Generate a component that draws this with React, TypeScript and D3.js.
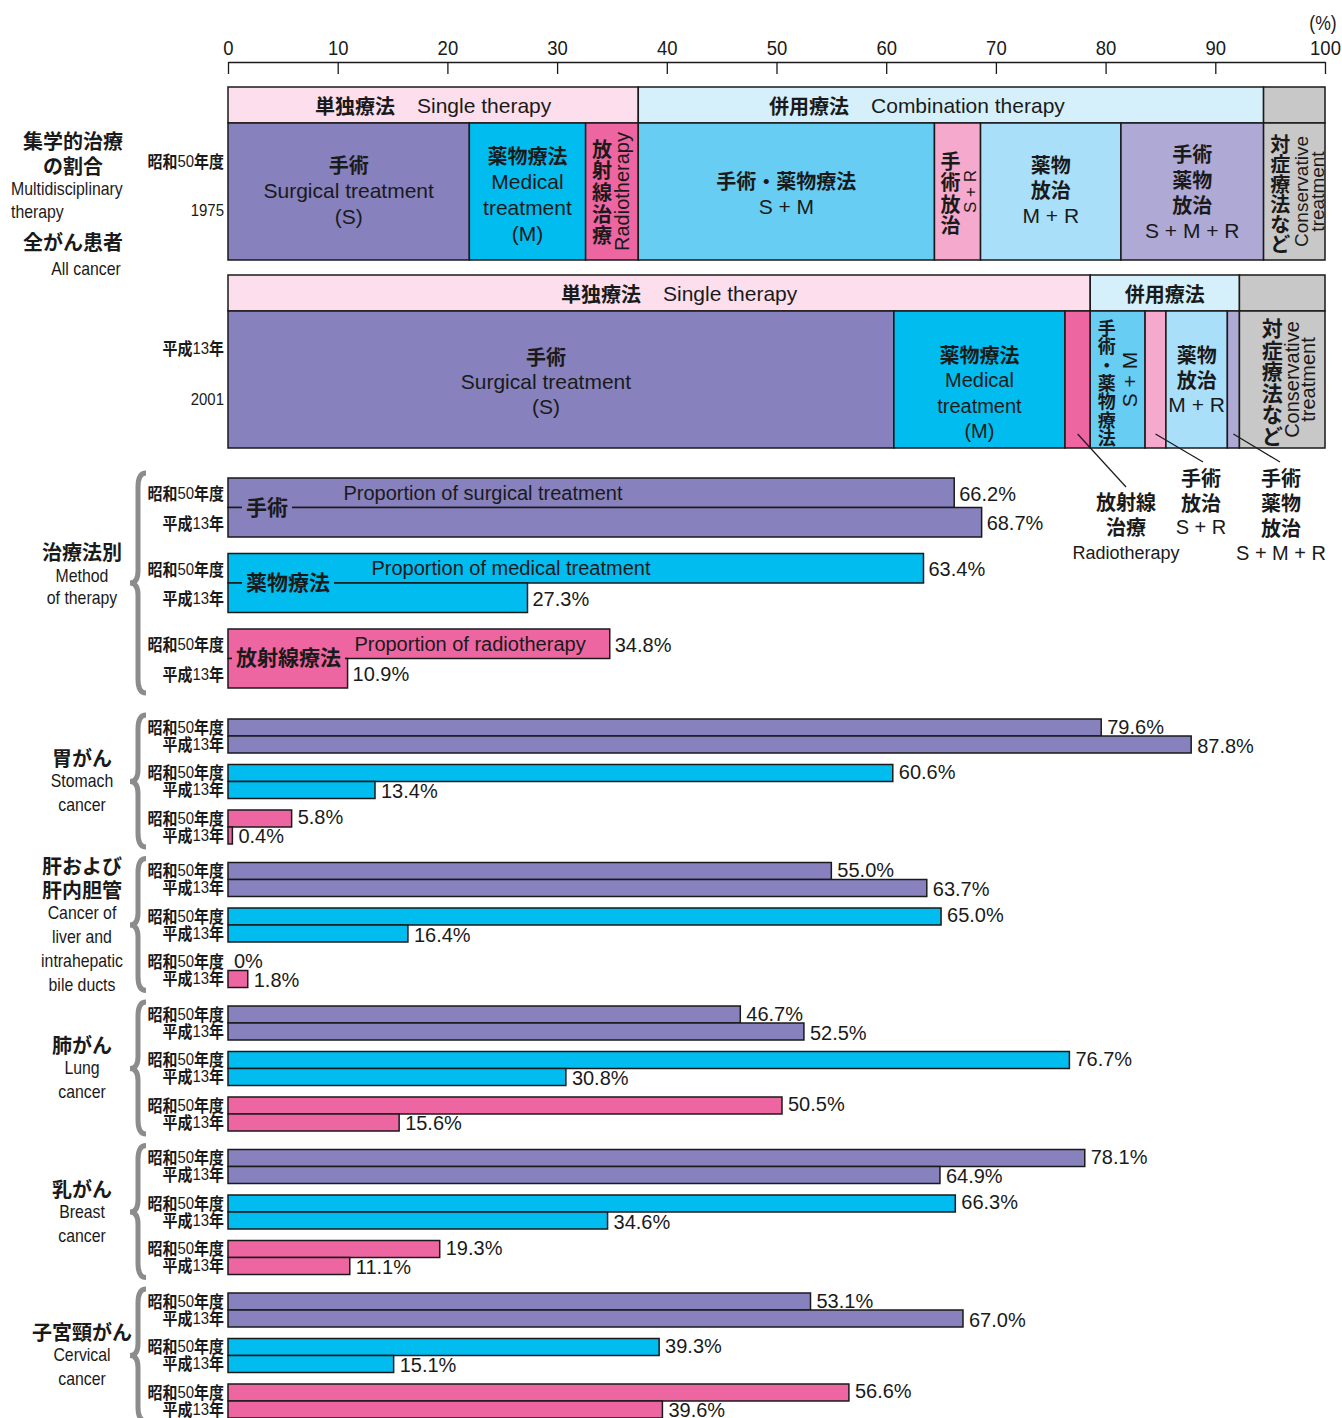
import React, { useEffect, useRef } from 'react';
import * as d3 from 'd3';

// axis
const axisTicks = [0, 10, 20, 30, 40, 50, 60, 70, 80, 90, 100];

// combination breakdown, all cancer (S, M, R, S+M, S+R, M+R, S+M+R, conservative)
const comboKeys = ['S', 'M', 'R', 'SM', 'SR', 'MR', 'SMR', 'C'];
const combo1975 = [22.0, 10.6, 4.8, 27.0, 4.2, 12.8, 13.0, 5.6];
const combo2001 = [60.7, 15.6, 2.3, 5.0, 1.9, 5.6, 1.1, 7.8];
const comboColors = ['#8781bd', '#00bcef', '#ee66a1', '#67cdf3', '#f5a9cd', '#aadffa', '#aea9d5', '#c8c8c8'];
const groupColors = ['#fcdeec', '#d5f0fb', '#c8c8c8'];

// proportion by method, all cancer
const methodJp = ['手術', '薬物療法', '放射線療法'];
const methodEn = ['Proportion of surgical treatment', 'Proportion of medical treatment', 'Proportion of radiotherapy'];
const allCancer1975 = [66.2, 63.4, 34.8];
const allCancer2001 = [68.7, 27.3, 10.9];
const methodColors = ['#8781bd', '#00bcef', '#ee66a1'];

// by cancer site
const siteJp = [['胃がん'], ['肝および', '肝内胆管'], ['肺がん'], ['乳がん'], ['子宮頸がん']];
const siteEn = [['Stomach', 'cancer'], ['Cancer of', 'liver and', 'intrahepatic', 'bile ducts'], ['Lung', 'cancer'], ['Breast', 'cancer'], ['Cervical', 'cancer']];
const surgery1975 = [79.6, 55.0, 46.7, 78.1, 53.1];
const surgery2001 = [87.8, 63.7, 52.5, 64.9, 67.0];
const medical1975 = [60.6, 65.0, 76.7, 66.3, 39.3];
const medical2001 = [13.4, 16.4, 30.8, 34.6, 15.1];
const radio1975 = [5.8, 0, 50.5, 19.3, 56.6];
const radio2001 = [0.4, 1.8, 15.6, 11.1, 39.6];

const yearsJp = ['昭和50年度', '平成13年'];
const yearsEn = ['1975', '2001'];

const JP = "'Noto Sans CJK JP', sans-serif";
const SANS = "'Liberation Sans', Arial, sans-serif";
const NARROW = "'Liberation Sans Narrow', 'Liberation Sans', sans-serif";
const INK = '#1a1a1a';

const fmt = (v: number) => (v === 0 ? '0%' : d3.format('.1f')(v) + '%');

export default function App() {
	const ref = useRef<SVGSVGElement>(null);

	useEffect(() => {
		const svg = d3.select(ref.current);
		svg.selectAll('*').remove();

		const x = d3.scaleLinear().domain([0, 100]).range([228, 1325]);

		const txt = (g: any, s: string, tx: number, ty: number, opt: any = {}) =>
			g.append('text')
				.attr('x', tx)
				.attr('y', ty)
				.attr('text-anchor', opt.anchor || 'middle')
				.attr('dominant-baseline', 'central')
				.attr('font-family', opt.font || SANS)
				.attr('font-weight', opt.bold ? 700 : 400)
				.attr('font-size', opt.size || 20)
				.attr('fill', INK)
				.text(s);

		const jp = (g: any, s: string, tx: number, ty: number, size = 20, anchor = 'middle') =>
			txt(g, s, tx, ty, { font: JP, bold: true, size, anchor });

		// narrow look: horizontally squeezed text, right-aligned at tx
		const yearLabel = (g: any, s: string, tx: number, ty: number, size: number) => {
			const t = g.append('text')
				.attr('transform', `translate(${tx},${ty}) scale(0.88,1)`)
				.attr('text-anchor', 'end')
				.attr('dominant-baseline', 'central')
				.attr('font-size', size)
				.attr('fill', INK);
			(s.match(/(\d+|\D+)/g) || []).forEach((p) => {
				const num = /\d/.test(p);
				t.append('tspan')
					.attr('font-family', num ? NARROW : JP)
					.attr('font-weight', num ? 400 : 700)
					.text(p);
			});
		};

		const narrow = (g: any, s: string, tx: number, ty: number, size = 18, anchor = 'middle') =>
			g.append('text')
				.attr('transform', `translate(${tx},${ty}) scale(0.88,1)`)
				.attr('text-anchor', anchor)
				.attr('dominant-baseline', 'central')
				.attr('font-family', NARROW)
				.attr('font-size', size)
				.attr('fill', INK)
				.text(s);

		const vChars = (g: any, s: string, cx: number, y0: number, step: number, size: number) =>
			Array.from(s).forEach((c, i) => jp(g, c, cx, y0 + i * step, size));

		const rotText = (g: any, s: string, bx: number, cy: number, size: number) =>
			g.append('text')
				.attr('transform', `translate(${bx},${cy}) rotate(-90)`)
				.attr('text-anchor', 'middle')
				.attr('font-family', SANS)
				.attr('font-size', size)
				.attr('fill', INK)
				.text(s);

		const brace = (y0: number, y1: number, tipY: number) => {
			const xr = 146, xm = 138, xt = 130;
			const p = `M${xr},${y0} Q${xm},${y0} ${xm},${y0 + 14} L${xm},${tipY - 12} Q${xm},${tipY} ${xt},${tipY} ` +
				`Q${xm},${tipY} ${xm},${tipY + 12} L${xm},${y1 - 14} Q${xm},${y1} ${xr},${y1}`;
			svg.append('path').attr('d', p).attr('fill', 'none').attr('stroke', '#8c8c8c').attr('stroke-width', 5);
		};

		// ---- axis ----
		const axis = d3.axisTop(x).tickValues(axisTicks).tickSizeInner(-12).tickSizeOuter(0).tickPadding(7);
		const ag = svg.append('g').attr('transform', 'translate(0,62)').call(axis as any);
		ag.select('.domain').attr('stroke', INK).attr('stroke-width', 1.5);
		ag.selectAll('.tick line').attr('stroke', INK).attr('stroke-width', 1.3);
		ag.selectAll('.tick text')
			.attr('font-family', NARROW).attr('font-size', 21).attr('fill', INK)
			.attr('transform', 'scale(0.88,1)');
		narrow(svg, '(%)', 1323, 23, 20);

		// ---- stacked blocks ----
		const drawStack = (values: number[], yTop: number, groupDx: number[], groupText: [string, string][]) => {
			const g = svg.append('g');
			const cum = d3.cumsum(values);
			const starts = values.map((_, i) => (i === 0 ? 0 : cum[i - 1]));
			const groups = [[0, cum[2]], [cum[2], cum[6]], [cum[6], 100]];
			const hH = 36, bH = 137;
			groups.forEach((gr, i) => {
				g.append('rect')
					.attr('x', x(gr[0])).attr('y', yTop)
					.attr('width', x(gr[1]) - x(gr[0])).attr('height', hH)
					.attr('fill', groupColors[i]).attr('stroke', INK).attr('stroke-width', 1.5);
				const [a, b] = groupText[i];
				if (a) {
					const t = g.append('text')
						.attr('x', (x(gr[0]) + x(gr[1])) / 2 + groupDx[i]).attr('y', yTop + hH / 2)
						.attr('text-anchor', 'middle').attr('dominant-baseline', 'central').attr('fill', INK);
					t.append('tspan').attr('font-family', JP).attr('font-weight', 700).attr('font-size', 20).text(a);
					if (b) t.append('tspan').attr('dx', 22).attr('font-family', SANS).attr('font-size', 21).text(b);
				}
			});
			g.selectAll('rect.seg')
				.data(values)
				.enter()
				.append('rect')
				.attr('class', 'seg')
				.attr('x', (d, i) => x(starts[i]))
				.attr('y', yTop + hH)
				.attr('width', (d) => x(d) - x(0))
				.attr('height', bH)
				.attr('fill', (d, i) => comboColors[i])
				.attr('stroke', INK)
				.attr('stroke-width', 1.5);
			const cx = (i: number) => x(starts[i] + values[i] / 2);
			const cy = yTop + hH + bH / 2;
			return { g, cx, cy, starts };
		};

		// 1975
		const b1 = drawStack(combo1975, 87, [0, -34, 0], [['単独療法', 'Single therapy'], ['併用療法', 'Combination therapy'], ['', '']]);
		{
			const { g, cx, cy } = b1;
			jp(g, '手術', cx(0), cy - 27);
			txt(g, 'Surgical treatment', cx(0), cy - 1, { size: 21 });
			txt(g, '(S)', cx(0), cy + 25, { size: 21 });
			jp(g, '薬物療法', cx(1), cy - 36);
			txt(g, 'Medical', cx(1), cy - 10, { size: 21 });
			txt(g, 'treatment', cx(1), cy + 16, { size: 21 });
			txt(g, '(M)', cx(1), cy + 42, { size: 21 });
			vChars(g, '放射線治療', cx(2) - 10, 148, 21.7, 20);
			rotText(g, 'Radiotherapy', cx(2) + 17, cy, 20);
			jp(g, '手術・薬物療法', cx(3), cy - 11);
			txt(g, 'S + M', cx(3), cy + 15, { size: 21 });
			vChars(g, '手術放治', cx(4) - 7, 160, 21.5, 20);
			rotText(g, 'S + R', cx(4) + 18, cy, 17);
			jp(g, '薬物', cx(5), cy - 27);
			jp(g, '放治', cx(5), cy - 2);
			txt(g, 'M + R', cx(5), cy + 24, { size: 21 });
			jp(g, '手術', cx(6), cy - 38);
			jp(g, '薬物', cx(6), cy - 12);
			jp(g, '放治', cx(6), cy + 13);
			txt(g, 'S + M + R', cx(6), cy + 39, { size: 21 });
			vChars(g, '対症療法など', cx(7) - 14, 143, 20, 20);
			rotText(g, 'Conservative', cx(7) + 14, cy, 19);
			rotText(g, 'treatment', cx(7) + 30, cy, 19);
		}

		// 2001
		const b2 = drawStack(combo2001, 275, [20, 0, 0], [['単独療法', 'Single therapy'], ['併用療法', ''], ['', '']]);
		{
			const { g, cx, cy } = b2;
			jp(g, '手術', cx(0) - 15, cy - 23);
			txt(g, 'Surgical treatment', cx(0) - 15, cy + 2, { size: 21 });
			txt(g, '(S)', cx(0) - 15, cy + 27, { size: 21 });
			jp(g, '薬物療法', cx(1), cy - 25);
			txt(g, 'Medical', cx(1), cy);
			txt(g, 'treatment', cx(1), cy + 26);
			txt(g, '(M)', cx(1), cy + 51);
			vChars(g, '手術・薬物療法', cx(3) - 11, 327, 18.3, 18);
			rotText(g, 'S + M', cx(3) + 19, cy, 21);
			jp(g, '薬物', cx(5), cy - 25);
			jp(g, '放治', cx(5), cy);
			txt(g, 'M + R', cx(5), cy + 25, { size: 21 });
			vChars(g, '対症療法など', cx(7) - 10, 327, 21.5, 21);
			rotText(g, 'Conservative', cx(7) + 17, cy, 20);
			rotText(g, 'treatment', cx(7) + 33, cy, 20);

			// leaders for thin segments
			const leaders: [number, number, number][] = [[2, 1126, 487], [4, 1203, 462], [6, 1280, 462]];
			leaders.forEach(([i, lx, ly]) => {
				g.append('line')
					.attr('x1', cx(i)).attr('y1', 434).attr('x2', lx).attr('y2', ly)
					.attr('stroke', INK).attr('stroke-width', 1.2);
			});
			jp(g, '放射線', 1126, 501);
			jp(g, '治療', 1126, 526);
			txt(g, 'Radiotherapy', 1126, 553, { size: 18 });
			jp(g, '手術', 1201, 477);
			jp(g, '放治', 1201, 502);
			txt(g, 'S + R', 1201, 527);
			jp(g, '手術', 1281, 477);
			jp(g, '薬物', 1281, 502);
			jp(g, '放治', 1281, 527);
			txt(g, 'S + M + R', 1281, 553);
		}

		// left labels for top blocks
		jp(svg, '集学的治療', 73, 140);
		jp(svg, 'の割合', 73, 165);
		narrow(svg, 'Multidisciplinary', 11, 189, 18, 'start');
		narrow(svg, 'therapy', 11, 212, 18, 'start');
		jp(svg, '全がん患者', 73, 241);
		narrow(svg, 'All cancer', 86, 269, 18);
		yearLabel(svg, yearsJp[0], 224, 161, 17);
		narrow(svg, yearsEn[0], 224, 210, 17, 'end');
		yearLabel(svg, yearsJp[1], 224, 348, 17);
		narrow(svg, yearsEn[1], 224, 399, 17, 'end');

		// ---- method of therapy, all cancer ----
		const mBand = d3.scaleBand<number>().domain([0, 1, 2]).range([478, 688]).paddingInner(0.2185);
		const mg = svg.append('g');
		const mH = mBand.bandwidth() / 2;
		const jpStart = [246, 246, 236];
		const enX = [483, 511, 470];
		methodJp.forEach((name, i) => {
			const y0 = mBand(i) as number;
			const vals = [allCancer1975[i], allCancer2001[i]];
			vals.forEach((v, k) => {
				mg.append('rect')
					.attr('x', x(0)).attr('y', y0 + k * mH)
					.attr('width', x(v) - x(0)).attr('height', mH)
					.attr('fill', methodColors[i]).attr('stroke', INK).attr('stroke-width', 1.5);
				txt(mg, fmt(v), x(v) + 5, y0 + k * mH + mH / 2 + 1, { anchor: 'start' });
				yearLabel(mg, yearsJp[k], 224, y0 + k * mH + mH / 2, 17);
			});
			const w = Array.from(name).length * 21;
			mg.append('rect')
				.attr('x', jpStart[i] - 4).attr('y', y0 + mH - 3)
				.attr('width', w + 8).attr('height', 6)
				.attr('fill', methodColors[i]);
			jp(mg, name, jpStart[i], y0 + mH - 2, 21, 'start');
			txt(mg, methodEn[i], enX[i], y0 + mH / 2);
		});
		brace(473, 693, 583);
		jp(svg, '治療法別', 82, 551);
		narrow(svg, 'Method', 82, 576, 18);
		narrow(svg, 'of therapy', 82, 598, 18);

		// ---- by cancer site ----
		const sBand = d3.scaleBand<number>().domain(d3.range(5)).range([719, 719 + 5 * 143.5]);
		const inner = d3.scaleBand<number>().domain([0, 1, 2]).range([0, 125]).paddingInner(0.2527);
		const barH = inner.bandwidth() / 2;
		const siteVals = [
			[surgery1975, surgery2001],
			[medical1975, medical2001],
			[radio1975, radio2001],
		];
		const sg = svg.append('g');
		siteJp.forEach((jpLines, s) => {
			const top = sBand(s) as number;
			siteVals.forEach((pair, m) => {
				const y0 = top + (inner(m) as number);
				pair.forEach((arr, k) => {
					const v = arr[s];
					const yb = y0 + k * barH;
					sg.append('rect')
						.attr('x', x(0)).attr('y', yb)
						.attr('width', x(v) - x(0)).attr('height', barH)
						.attr('fill', methodColors[m]).attr('stroke', INK).attr('stroke-width', 1.5);
					txt(sg, fmt(v), x(v) + 6, yb + barH / 2 + (k === 0 ? -1 : 1), { anchor: 'start' });
					yearLabel(sg, yearsJp[k], 224, yb + barH / 2 - 1, 17);
				});
			});
			const lines = [...jpLines.map((t) => ({ t, j: true })), ...siteEn[s].map((t) => ({ t, j: false }))];
			const mid = top + 62.5;
			lines.forEach((l, i) => {
				const ly = mid + (i - (lines.length - 1) / 2) * 24;
				if (l.j) jp(svg, l.t, 82, ly);
				else narrow(svg, l.t, 82, ly, 18);
			});
			brace(top - 4, top + 128, mid);
		});
	}, []);

	return (
		<svg
			ref={ref}
			width={1342}
			height={1418}
			style={{ position: 'absolute', left: 0, top: 0, background: '#fff' }}
		/>
	);
}
